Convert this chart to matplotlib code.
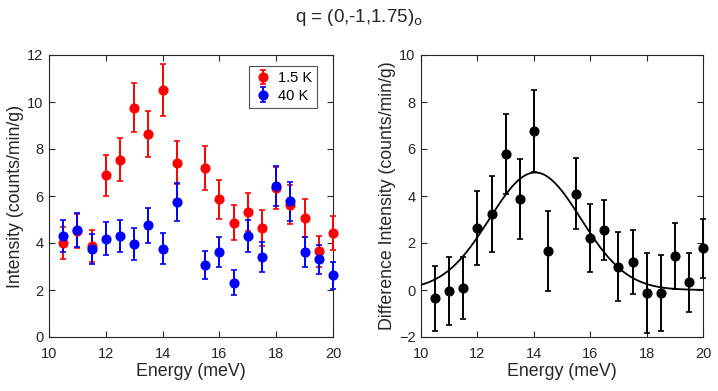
import numpy as np
import matplotlib
matplotlib.use("Agg")
import matplotlib.pyplot as plt

plt.rcParams['font.family'] = ['Liberation Sans', 'DejaVu Sans']

# ------------------------------------------------
# data
# ------------------------------------------------
energy = np.array([10.5, 11, 11.5, 12, 12.5, 13, 13.5, 14, 14.5,
                   15.5, 16, 16.5, 17, 17.5, 18, 18.5, 19, 19.5, 20])

# 1.5 K
I_low = np.array([4.00, 4.50, 3.88, 6.88, 7.55, 9.76, 8.64, 10.52, 7.42,
                  7.19, 5.86, 4.87, 5.30, 4.64, 6.34, 5.63, 5.06, 3.65, 4.43])
dI_low = np.array([0.67, 0.72, 0.67, 0.88, 0.91, 1.04, 0.99, 1.10, 0.93,
                   0.92, 0.83, 0.76, 0.81, 0.76, 0.88, 0.82, 0.80, 0.65, 0.73])

# 40 K
I_high = np.array([4.30, 4.54, 3.76, 4.18, 4.30, 3.97, 4.75, 3.76, 5.74,
                   3.08, 3.62, 2.31, 4.30, 3.40, 6.41, 5.77, 3.62, 3.30, 2.62])
dI_high = np.array([0.70, 0.72, 0.64, 0.70, 0.70, 0.68, 0.73, 0.65, 0.82,
                    0.60, 0.65, 0.53, 0.70, 0.64, 0.85, 0.82, 0.65, 0.62, 0.57])

# difference (1.5 K - 40 K)
I_diff = np.array([-0.36, -0.04, 0.09, 2.65, 3.22, 5.78, 3.87, 6.77, 1.66,
                   4.10, 2.22, 2.55, 0.99, 1.20, -0.12, -0.12, 1.44, 0.32, 1.77])
dI_diff = np.array([1.37, 1.44, 1.32, 1.57, 1.62, 1.71, 1.72, 1.74, 1.72,
                    1.50, 1.45, 1.27, 1.47, 1.35, 1.70, 1.61, 1.39, 1.25, 1.25])

# gaussian fit parameters
fit_amp = 5.0
fit_center = 14.05
fit_sigma = 1.62
fit_base = 0.0

# ------------------------------------------------
# figure
# ------------------------------------------------
fig = plt.figure(figsize=(7.18, 3.91), dpi=100)
W, H = 718, 391
ax1 = fig.add_axes([49 / W, 1 - 337 / H, 284 / W, 282 / H])
ax2 = fig.add_axes([421 / W, 1 - 337 / H, 282 / W, 282 / H])

fig.text(0.5, 1 - 17 / H, r"q = (0,-1,1.75)$_\mathrm{o}$", ha="center", va="center",
         fontsize=13.5, color="#262626")

ebkw = dict(fmt="o", markersize=6.3, capsize=2.5, elinewidth=1.4, capthick=1.2,
            clip_on=False)

ax1.errorbar(energy, I_low, yerr=dI_low, color="#ff0000", label="1.5 K", **ebkw)
ax1.errorbar(energy, I_high, yerr=dI_high, color="#0000ff", label="40 K", **ebkw)
ax1.set_xlim(10, 20)
ax1.set_ylim(0, 12)
ax1.set_yticks(np.arange(0, 13, 2))
ax1.set_xlabel("Energy (meV)", fontsize=12.8, color="#262626", labelpad=2)
ax1.set_ylabel("Intensity (counts/min/g)", fontsize=12.8, color="#262626", labelpad=2)
leg = ax1.legend(loc="upper right", bbox_to_anchor=(0.944, 0.961), borderaxespad=0,
                 fontsize=10.5, frameon=True, fancybox=False, edgecolor="#262626",
                 handletextpad=0.5, handlelength=1.1, borderpad=0.35,
                 labelspacing=0.25)
leg.get_frame().set_linewidth(0.8)

ax2.errorbar(energy, I_diff, yerr=dI_diff, color="black", **ebkw)
x_fit = np.linspace(10, 20, 300)
y_fit = fit_base + fit_amp * np.exp(-(x_fit - fit_center) ** 2 / (2 * fit_sigma ** 2))
ax2.plot(x_fit, y_fit, color="black", lw=1.3)
ax2.set_xlim(10, 20)
ax2.set_ylim(-2, 10)
ax2.set_yticks(np.arange(-2, 11, 2))
ax2.set_xlabel("Energy (meV)", fontsize=12.8, color="#262626", labelpad=2)
ax2.set_ylabel("Difference Intensity (counts/min/g)", fontsize=12.8, color="#262626",
               labelpad=2)

for ax in (ax1, ax2):
    ax.set_xticks(np.arange(10, 21, 2))
    ax.tick_params(direction="in", top=True, right=True, length=4, width=0.8,
                   labelsize=10.5, colors="#262626")
    ax.tick_params(axis="x", pad=7)
    ax.tick_params(axis="y", pad=4)
    for s in ax.spines.values():
        s.set_color("#262626")
        s.set_linewidth(0.8)
        s.set_zorder(1)

fig.savefig("out.png", dpi=100)
